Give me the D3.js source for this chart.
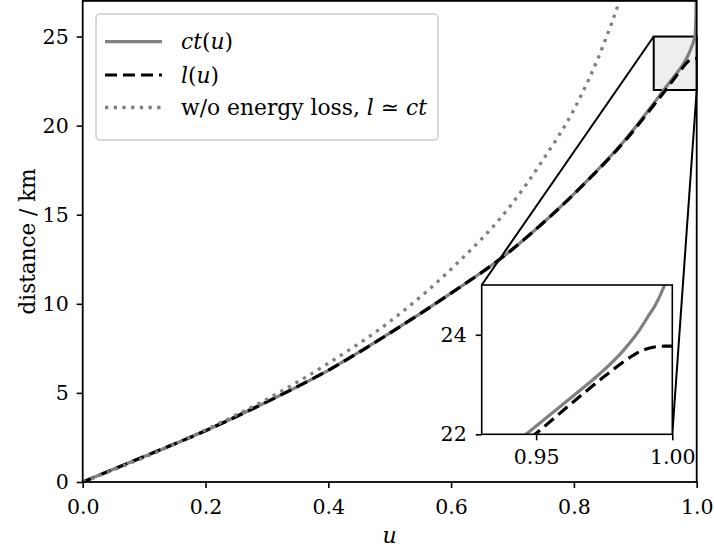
<!DOCTYPE html>
<html>
<head>
<meta charset="utf-8">
<script src="https://cdn.jsdelivr.net/npm/d3@7"></script>
<style>
  html, body { margin: 0; padding: 0; background: #fff; }
  svg { display: block; font-family: "DejaVu Serif", serif; }
</style>
</head>
<body>
<svg id="chart" width="714" height="554"></svg>
<script>
// ---- data ----
const uCt = [0, 0.1, 0.2, 0.3, 0.4, 0.5, 0.6, 0.685, 0.75, 0.827, 0.887, 0.93, 0.9463, 0.955, 0.9636, 0.972, 0.977, 0.981, 0.985, 0.988, 0.991, 0.994, 0.996, 0.9975, 0.999, 1.0];
const ct  = [0, 1.43, 2.88, 4.5, 6.27, 8.35, 10.6, 12.65, 14.55, 17.1, 19.35, 21.25, 22.0, 22.39, 22.77, 23.15, 23.4, 23.62, 23.88, 24.1, 24.36, 24.62, 24.85, 25.1, 26.6, 28.5];

const uL  = [0, 0.1, 0.2, 0.3, 0.4, 0.5, 0.6, 0.685, 0.75, 0.827, 0.887, 0.93, 0.9496, 0.966, 0.975, 0.9832, 0.988, 0.993, 0.997, 1.0];
const lU  = [0, 1.43, 2.88, 4.5, 6.27, 8.35, 10.6, 12.65, 14.55, 17.08, 19.3, 21.15, 22.0, 22.76, 23.16, 23.5, 23.66, 23.75, 23.77, 23.77];

const uFree = [0, 0.1, 0.2, 0.3, 0.4, 0.5, 0.6, 0.7, 0.75, 0.8, 0.85, 0.875, 0.9];
const free  = [0, 1.38, 2.92, 4.65, 6.66, 9.0, 11.95, 15.65, 18.1, 20.9, 24.7, 27.1, 30.0];

const xTicks = [0, 0.2, 0.4, 0.6, 0.8, 1.0];
const yTicks = [0, 5, 10, 15, 20, 25];
const insetXTicks = [0.95, 1.00];
const insetYTicks = [22, 24];
const xDomain = [0, 1];
const yDomain = [0, 27];
const insetXDomain = [0.93, 1.0];
const insetYDomain = [22, 25];

// ---- layout ----
const svg = d3.select("#chart");
const M = { left: 82.7, right: 696.7, top: 0.9, bottom: 482 };
const I = { left: 481.7, right: 672.3, top: 285, bottom: 434.3 };
const GRAY = "#808080";
const FS = 20.5;

const x = d3.scaleLinear().domain(xDomain).range([M.left, M.right]);
const y = d3.scaleLinear().domain(yDomain).range([M.bottom, M.top]);
const xi = d3.scaleLinear().domain(insetXDomain).range([I.left, I.right]);
const yi = d3.scaleLinear().domain(insetYDomain).range([I.bottom, I.top]);

const defs = svg.append("defs");
defs.append("clipPath").attr("id", "clipMain").append("rect")
  .attr("x", M.left).attr("y", M.top).attr("width", M.right - M.left).attr("height", M.bottom - M.top);
defs.append("clipPath").attr("id", "clipInset").append("rect")
  .attr("x", I.left).attr("y", I.top).attr("width", I.right - I.left).attr("height", I.bottom - I.top);

const series = [
  { u: uCt, v: ct, color: GRAY, dash: null, width: 3.2 },
  { u: uL, v: lU, color: "#000", dash: "12,6", width: 3.2 },
  { u: uFree, v: free, color: GRAY, dash: "3.3,5.4", width: 3.3 }
];

function drawCurves(g, sx, sy, clip) {
  const cg = g.append("g").attr("clip-path", `url(#${clip})`);
  series.forEach(s => {
    const pts = s.u.map((d, i) => [d, s.v[i]]);
    const line = d3.line().x(d => sx(d[0])).y(d => sy(d[1])).curve(d3.curveMonotoneX);
    cg.append("path").attr("d", line(pts)).attr("fill", "none")
      .attr("stroke", s.color).attr("stroke-width", s.width)
      .attr("stroke-dasharray", s.dash);
  });
}

// indicator rectangle (below curves)
svg.append("rect")
  .attr("x", x(insetXDomain[0])).attr("y", y(insetYDomain[1]))
  .attr("width", x(insetXDomain[1]) - x(insetXDomain[0]))
  .attr("height", y(insetYDomain[0]) - y(insetYDomain[1]))
  .attr("fill", "#eeeeee").attr("stroke", "#000").attr("stroke-width", 2);

// main curves
drawCurves(svg.append("g"), x, y, "clipMain");

// connector lines
const conn = svg.append("g").attr("stroke", "#000").attr("stroke-width", 2);
conn.append("line")
  .attr("x1", x(insetXDomain[0])).attr("y1", y(insetYDomain[1]))
  .attr("x2", xi(insetXDomain[0])).attr("y2", yi(insetYDomain[1]));
conn.append("line")
  .attr("x1", x(insetXDomain[1])).attr("y1", y(insetYDomain[0]))
  .attr("x2", xi(insetXDomain[1])).attr("y2", yi(insetYDomain[0]));

// main axes
function styleAxis(g) {
  g.selectAll("path.domain").remove();
  g.selectAll(".tick line").attr("stroke", "#000").attr("stroke-width", 1.6);
  g.selectAll(".tick text").attr("fill", "#000").attr("font-size", FS)
    .attr("font-family", "DejaVu Serif, serif");
}
const gx = svg.append("g").attr("transform", `translate(0,${M.bottom})`)
  .call(d3.axisBottom(x).tickValues(xTicks).tickFormat(d3.format(".1f")).tickSize(6).tickPadding(11).tickSizeOuter(0));
styleAxis(gx);
const gy = svg.append("g").attr("transform", `translate(${M.left},0)`)
  .call(d3.axisLeft(y).tickValues(yTicks).tickFormat(d3.format("d")).tickSize(6).tickPadding(8).tickSizeOuter(0));
styleAxis(gy);

svg.append("rect").attr("x", M.left).attr("y", M.top)
  .attr("width", M.right - M.left).attr("height", M.bottom - M.top)
  .attr("fill", "none").attr("stroke", "#000").attr("stroke-width", 1.8);

// axis labels
svg.append("text").attr("x", (M.left + M.right) / 2).attr("y", 543)
  .attr("text-anchor", "middle").attr("font-size", 22).attr("font-style", "italic").text("u");
svg.append("text").attr("transform", `translate(35,${(M.top + M.bottom) / 2}) rotate(-90)`)
  .attr("text-anchor", "middle").attr("font-size", 21.5).text("distance / km");

// inset
const ig = svg.append("g");
ig.append("rect").attr("x", I.left).attr("y", I.top)
  .attr("width", I.right - I.left).attr("height", I.bottom - I.top).attr("fill", "#fff");
drawCurves(ig, xi, yi, "clipInset");
const igx = ig.append("g").attr("transform", `translate(0,${I.bottom})`)
  .call(d3.axisBottom(xi).tickValues(insetXTicks).tickFormat(d3.format(".2f")).tickSize(6).tickPadding(9).tickSizeOuter(0));
styleAxis(igx);
const igy = ig.append("g").attr("transform", `translate(${I.left},0)`)
  .call(d3.axisLeft(yi).tickValues(insetYTicks).tickFormat(d3.format("d")).tickSize(6).tickPadding(9).tickSizeOuter(0));
styleAxis(igy);
ig.append("rect").attr("x", I.left).attr("y", I.top)
  .attr("width", I.right - I.left).attr("height", I.bottom - I.top)
  .attr("fill", "none").attr("stroke", "#000").attr("stroke-width", 1.6);

// legend
const lg = svg.append("g");
lg.append("rect").attr("x", 96).attr("y", 14).attr("width", 342).attr("height", 126)
  .attr("rx", 4).attr("fill", "#fff").attr("fill-opacity", 0.8)
  .attr("stroke", "#cccccc").attr("stroke-width", 1.5);
const rows = [
  { y: 41.7, s: series[0], parts: [["c", true], ["t", true], ["(", false], ["u", true], [")", false]] },
  { y: 75, s: series[1], parts: [["l", true], ["(", false], ["u", true], [")", false]] },
  { y: 107.5, s: series[2], parts: [["w/o energy loss, ", false], ["l", true], [" \u2243 ", false], ["ct", true]] }
];
rows.forEach(r => {
  lg.append("line").attr("x1", 105).attr("x2", 162).attr("y1", r.y).attr("y2", r.y)
    .attr("stroke", r.s.color).attr("stroke-width", r.s.width).attr("stroke-dasharray", r.s.dash);
  const t = lg.append("text").attr("x", 181).attr("y", r.y).attr("dy", "0.35em")
    .attr("font-size", 21.8).attr("xml:space", "preserve");
  r.parts.forEach(p => t.append("tspan").attr("font-style", p[1] ? "italic" : "normal").text(p[0]));
});
</script>
</body>
</html>
